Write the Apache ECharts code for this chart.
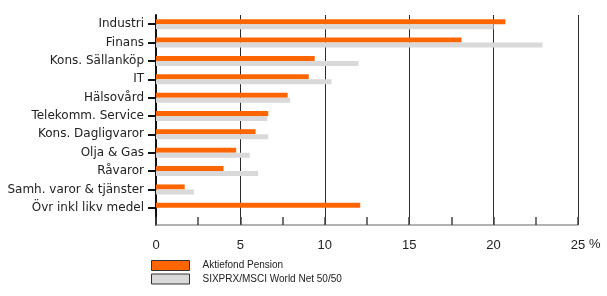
<!DOCTYPE html>
<html><head><meta charset="utf-8">
<script src="https://cdn.jsdelivr.net/npm/echarts@6/dist/echarts.min.js"></script>
<style>html,body{margin:0;padding:0;background:#fff}#c{width:607px;height:296px}</style>
</head><body><div id="c"></div>
<script>
const categories = ['Industri','Finans','Kons. Sällanköp','IT','Hälsovård','Telekomm. Service','Kons. Dagligvaror','Olja & Gas','Råvaror','Samh. varor & tjänster','Övr inkl likv medel'];
const fundValues = [20.7, 18.1, 9.4, 9.05, 7.8, 6.65, 5.9, 4.75, 4.0, 1.7, 12.1];
const indexValues = [20.0, 22.9, 12.0, 10.4, 7.95, 6.6, 6.65, 5.55, 6.05, 2.25, 0];
const seriesNames = ['Aktiefond Pension', 'SIXPRX/MSCI World Net 50/50'];
const xTicks = [0, 5, 10, 15, 20, 25];
const unitLabel = '%';

const chart = echarts.init(document.getElementById('c'));
const lblFont = 'DejaVu Sans';
chart.setOption({
  animation: false,
  grid: [
    {left: 156, right: 29, top: 15, height: 202},
    {left: 156, right: 29, top: 15, bottom: 71}
  ],
  xAxis: [
    {gridIndex: 0, type: 'value', min: xTicks[0], max: xTicks[xTicks.length-1], interval: 5, show: false},
    {gridIndex: 1, type: 'value', min: xTicks[0], max: xTicks[xTicks.length-1], interval: 5,
     axisLine: {show: true, lineStyle: {color: '#999', width: 1.5}},
     axisTick: {show: true, inside: true, length: 8, lineStyle: {color: '#444', width: 1.5}},
     minorTick: {show: true, splitNumber: 2, length: 8, lineStyle: {color: '#444', width: 1.5}},
     splitLine: {show: true, lineStyle: {color: '#2a2a2a', width: 1}},
     axisLabel: {margin: 14, fontSize: 13, color: '#222', fontFamily: 'Liberation Sans'}}
  ],
  yAxis: [
    {gridIndex: 0, type: 'category', data: categories, inverse: true,
     axisLine: {show: false},
     axisTick: {show: true, alignWithLabel: true, length: 8, lineStyle: {color: '#111', width: 2}},
     axisLabel: {margin: 12, fontSize: 12, color: '#222', fontFamily: lblFont}},
    {gridIndex: 1, type: 'value', min: 0, max: 1,
     axisLine: {show: true, onZero: false, lineStyle: {color: '#111', width: 2}},
     axisTick: {show: false}, axisLabel: {show: false}, splitLine: {show: false}}
  ],
  legend: {
    left: 151, top: 260, padding: 0, orient: 'vertical', icon: 'rect',
    itemWidth: 38, itemHeight: 10, itemGap: 2.5,
    itemStyle: {borderColor: '#333', borderWidth: 1},
    textStyle: {fontSize: 10, lineHeight: 10, color: '#222', fontFamily: 'Liberation Sans', padding: [0,0,0,8]},
    data: seriesNames
  },
  graphic: [{type: 'text', left: 589, top: 238, style: {text: unitLabel, fontSize: 13, fill: '#222', font: '13px Liberation Sans'}}],
  series: [
    {name: seriesNames[0], type: 'bar', xAxisIndex: 0, yAxisIndex: 0, data: fundValues, barWidth: 5, barGap: '0%',
     itemStyle: {color: '#FF6600'}},
    {name: seriesNames[1], type: 'bar', xAxisIndex: 0, yAxisIndex: 0, data: indexValues, barWidth: 5, barGap: '0%',
     itemStyle: {color: '#D9D9D9'}}
  ]
});
</script></body></html>
